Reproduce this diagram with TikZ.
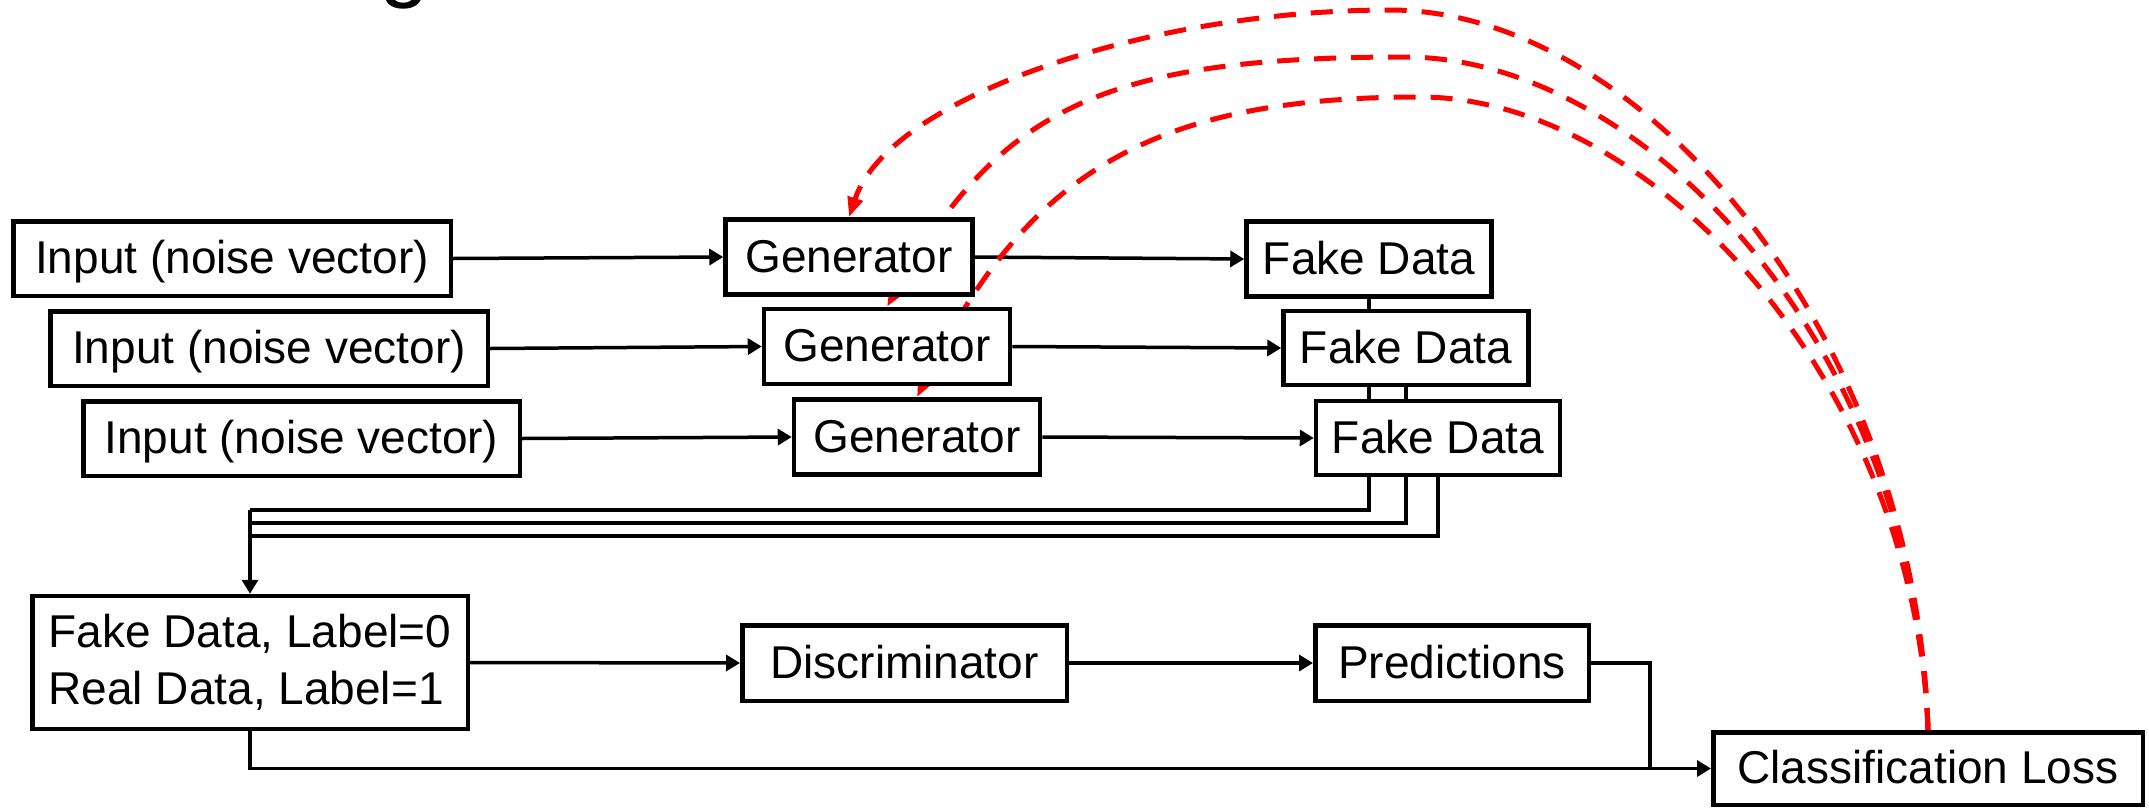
\documentclass[tikz,border=0pt]{standalone}
\usepackage{fontspec}
\setmainfont{Liberation Sans}
\usetikzlibrary{arrows.meta,backgrounds}
\begin{document}
\begin{tikzpicture}[x=1pt,y=-1pt,
  boxbase/.style={draw=black, line width=4.5pt, fill=white, inner sep=0pt,
    font=\fontsize{46}{57}\selectfont},
  box/.style={boxbase, text height=40pt, text depth=10pt},
  wire/.style={draw=black, line width=3.5pt},
  flow/.style={wire, -{Triangle[length=14pt,width=16pt]}},
  feedback/.style={draw=red, line width=5pt, dash pattern=on 22pt off 15pt,
    -{Triangle[length=20pt,width=15pt]}}
]
\useasboundingbox (0,0) rectangle (2149,809);

% title fragment cut by the upper edge
\begin{scope}
  \clip (0,0) rectangle (2149,809);
  \node[anchor=base, inner sep=0pt, font=\fontsize{90}{90}\selectfont] (title) at (405,-9.6) {g};
\end{scope}

% generator branch
\node[box, minimum width=437.5pt, minimum height=74.5pt] (in1) at (232,258.5) {Input (noise vector)};
\node[box, minimum width=437.5pt, minimum height=74.5pt] (in2) at (269,348.5) {Input (noise vector)};
\node[box, minimum width=436.5pt, minimum height=74.5pt] (in3) at (301.5,438.5) {Input (noise vector)};

\node[box, minimum width=247pt, minimum height=75pt] (g1) at (849,257) {Generator};
\node[box, minimum width=246pt, minimum height=75pt] (g2) at (887,346.5) {Generator};
\node[box, minimum width=246pt, minimum height=75pt] (g3) at (917,437) {Generator};

\node[box, minimum width=245pt, minimum height=75pt] (f1) at (1369,259) {Fake Data};
\node[box, minimum width=245pt, minimum height=74pt] (f2) at (1406,348) {Fake Data};
\node[box, minimum width=244pt, minimum height=74pt] (f3) at (1438,438) {Fake Data};

% discriminator branch
\node[boxbase, align=left, minimum width=435.5pt, minimum height=133pt] (fr) at (250,662.5)
  {Fake Data, Label=0\\Real Data, Label=1};
\node[box, minimum width=324.5pt, minimum height=75.5pt] (disc) at (904.5,663) {Discriminator};
\node[box, minimum width=273.5pt, minimum height=75.5pt] (pred) at (1452,663) {Predictions};
\node[box, minimum width=429.5pt, minimum height=72.5pt] (cl) at (1928,768.5) {Classification Loss};

\coordinate (bus1) at (250,510);
\coordinate (bus2) at (250,523);
\coordinate (bus3) at (250,536);
\coordinate (merge) at (1650,768.5);

\begin{scope}[on background layer]
  \draw[flow] (in1.east) -- (g1.west);
  \draw[flow] (in2.east) -- (g2.west);
  \draw[flow] (in3.east) -- (g3.west);
  \draw[flow] (g1.east) -- (f1.west);
  \draw[flow] (g2.east) -- (f2.west);
  \draw[flow] (g3.east) -- (f3.west);

  \draw[wire] (f1.south) |- (bus1);
  \draw[wire] (f2.south) |- (bus2);
  \draw[wire] (f3.south) |- (bus3);
  \draw[flow] (bus1) -- (fr.north);

  \draw[flow] (fr.east) -- (disc.west);
  \draw[flow] (disc.east) -- (pred.west);
  \draw[wire] (pred.east) -| (merge);
  \draw[flow] (fr.south) |- (cl.west);

  % loss fed back to each generator
  \draw[feedback] (cl.north) .. controls (1915,330) and (1640,10) .. (1390,10)
                  .. controls (1150,10) and (889,97) .. (g1.north);
  \draw[feedback] (cl.north) .. controls (1915,340) and (1640,57) .. (1405,57)
                  .. controls (1100,57) and (1000,110) .. (g2.north);
  \draw[feedback] (cl.north) .. controls (1915,380) and (1650,97) .. (1420,97)
                  .. controls (1150,97) and (1025,175) .. (g3.north);
\end{scope}
\end{tikzpicture}
\end{document}
